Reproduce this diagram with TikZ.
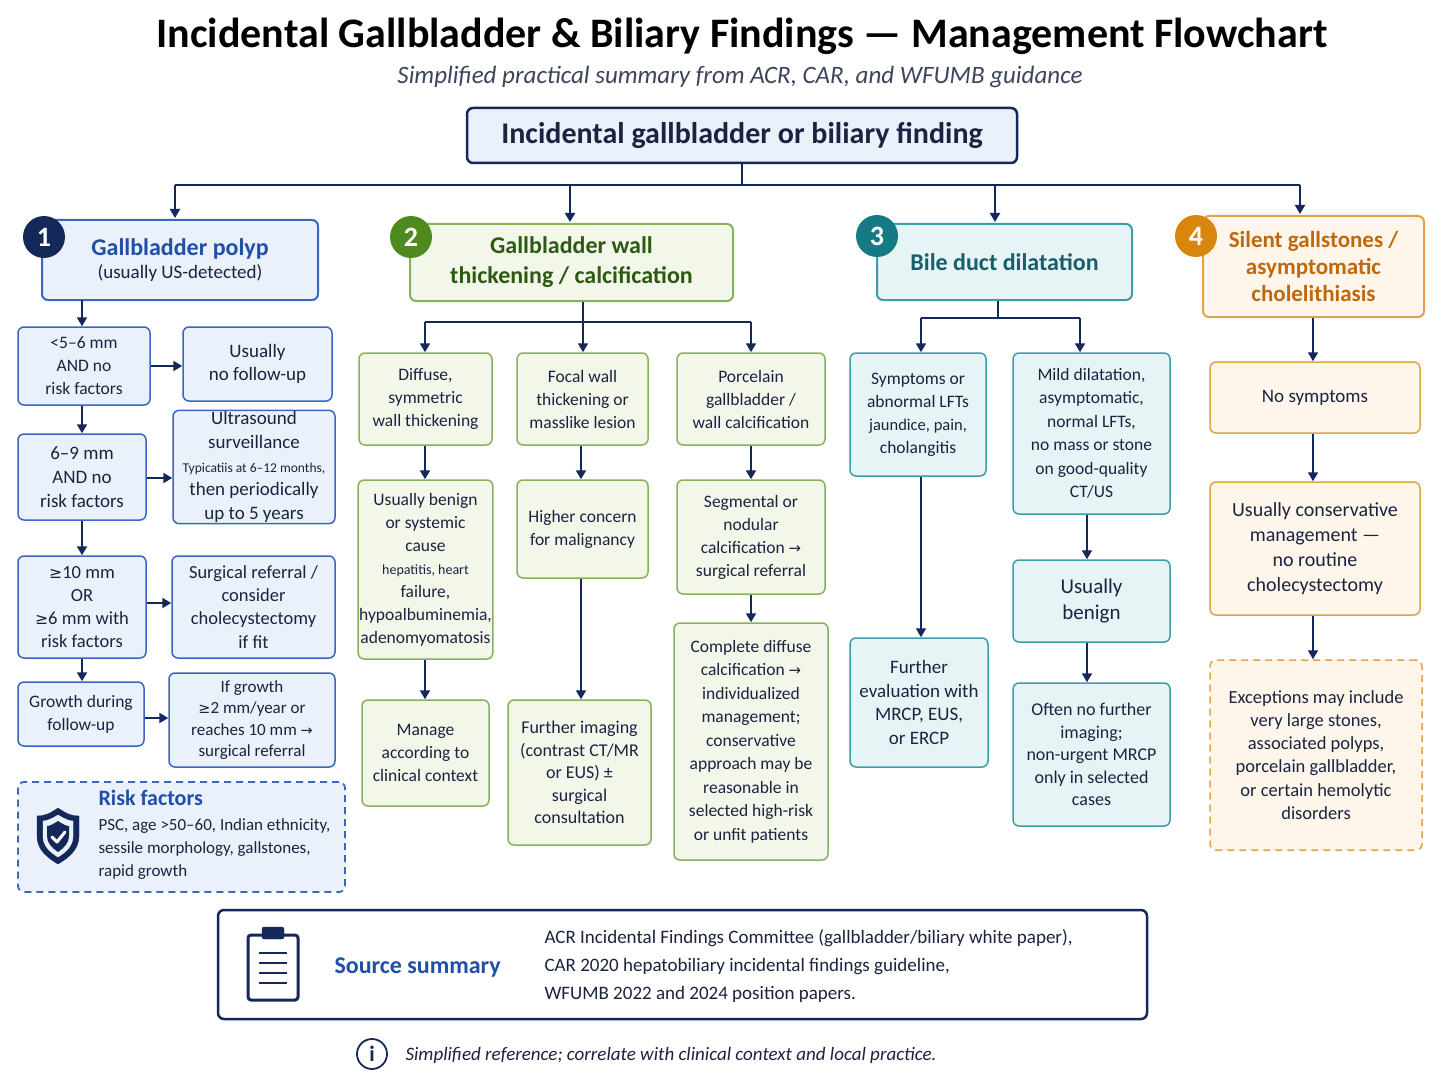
\documentclass[tikz,border=0pt]{standalone}
\usepackage{fontspec}
\setmainfont{Carlito}
\newfontfamily\dv{DejaVu Sans}
\usetikzlibrary{arrows.meta}
\definecolor{navy}{HTML}{14285A}
\definecolor{txt}{HTML}{1B2340}
\definecolor{bB}{HTML}{3A66BF}\definecolor{bF}{HTML}{EAF1FB}\definecolor{bT}{HTML}{1F4FA8}
\definecolor{gB}{HTML}{86B35A}\definecolor{gF}{HTML}{F2F7EA}\definecolor{gT}{HTML}{2D5A12}\definecolor{gC}{HTML}{4F8A1E}
\definecolor{tB}{HTML}{3C9EA8}\definecolor{tF}{HTML}{E7F4F5}\definecolor{tT}{HTML}{185E6A}\definecolor{tC}{HTML}{157A84}
\definecolor{oB}{HTML}{E5A04A}\definecolor{oF}{HTML}{FEF6EA}\definecolor{oT}{HTML}{C0680E}\definecolor{oC}{HTML}{D9860F}
\newcommand\GE{{\dv\fontsize{0.85em}{1em}\selectfont ≥}}
\newcommand\RA{{\dv\fontsize{0.85em}{1em}\selectfont →}}
\newcommand\bx[7]{\node[#6, minimum width={#4-#2}, minimum height={#5-#3}] (#1) at ({(#2+#4)/2},{(#3+#5)/2}) {#7};}
\newcommand\fs[1]{\fontsize{#1}{#1}\selectfont\baselineskip=1.25\baselineskip}
\begin{document}
\begin{tikzpicture}[x=1pt,y=-1pt,
 box/.style={draw, rounded corners=6pt, line width=1.5pt, align=center, inner sep=1pt, text=txt, font=\fontsize{17.5}{23}\selectfont},
 B/.style={box, draw=bB, fill=bF},
 G/.style={box, draw=gB, fill=gF},
 T/.style={box, draw=tB, fill=tF},
 O/.style={box, draw=oB, fill=oF},
 ln/.style={draw=navy, line width=2pt},
 arr/.style={ln, -{Triangle[length=9pt,width=10pt]}},
 num/.style={circle, fill=#1, text=white, minimum size=42pt, inner sep=0pt, font=\fontsize{28}{30}\selectfont\bfseries}]
\useasboundingbox (0,0) rectangle (1448,1086);
\fill[white] (0,0) rectangle (1448,1086);
\node[text=black, font=\fontsize{42}{46}\selectfont\bfseries] (title) at (742,36) {Incidental Gallbladder \& Biliary Findings — Management Flowchart};
\node[text=txt!85, font=\fontsize{25}{28}\selectfont\itshape] (sub) at (740,77) {Simplified practical summary from ACR, CAR, and WFUMB guidance};
\bx{top}{467}{108}{1017}{163}{B, draw=navy, line width=2.5pt, font=\fontsize{30}{34}\selectfont\bfseries}{Incidental gallbladder or biliary finding}
% headers
\bx{h1}{42}{220}{318}{300}{B, line width=2pt}{\color{bT}\fs{24}\bfseries Gallbladder polyp\\\color{txt}\fs{19}\mdseries (usually US-detected)}
\bx{h2}{410}{224}{733}{301}{G, line width=2pt, font=\fs{24}\bfseries, text=gT}{Gallbladder wall\\thickening / calcification}
\bx{h3}{877}{224}{1132}{300}{T, line width=2pt, font=\fs{24}\bfseries, text=tT}{Bile duct dilatation}
\bx{h4}{1203}{216}{1424}{317}{O, line width=2pt, font=\fontsize{23}{27}\selectfont\bfseries, text=oT}{Silent gallstones /\\asymptomatic\\cholelithiasis}
\node[num=navy] (n1) at (44,237) {1};
\node[num=gC] (n2) at (411,237) {2};
\node[num=tC] (n3) at (877,236) {3};
\node[num=oC] (n4) at (1196,236) {4};
\draw[ln] (top.south) -- (top.south |- 0,185);
\draw[ln] (175,185) -- (1300,185);
\draw[arr] (175,185) -- (175,218);
\draw[arr] (570,185) -- (570,222);
\draw[arr] (995,185) -- (995,222);
\draw[arr] (1300,185) -- (1300,214);
% column 1
\bx{b1}{18}{327}{150}{405}{B}{<5–6 mm\\AND no\\risk factors}
\bx{r1}{183}{327}{332}{401}{B, font=\fs{19}}{Usually\\no follow-up}
\bx{b2}{18}{434}{146}{520}{B, font=\fs{19}}{6–9 mm\\AND no\\risk factors}
\bx{r2}{173}{422}{335}{512}{B, font=\fs{19}}{Ultrasound\\surveillance\\\fontsize{13.5}{17}\selectfont Typicatiis at 6–12 months,\\then periodically\\up to 5 years}
\bx{b3}{18}{556}{146}{658}{B, font=\fs{18.5}}{\GE10 mm\\OR\\\GE6 mm with\\risk factors}
\bx{r3}{172}{556}{335}{658}{B, font=\fs{18.5}}{Surgical referral /\\consider\\cholecystectomy\\if fit}
\bx{b4}{18}{682}{144}{746}{B}{Growth during\\follow-up}
\bx{r4}{169}{673}{335}{767}{B, font=\fs{17}}{If growth\\\GE2 mm/year or\\reaches 10 mm \RA\\surgical referral}
\draw[arr] (82,300) -- (b1.north -| 82,0);
\draw[arr] (b1.south -| 82,0) -- (b2.north -| 82,0);
\draw[arr] (b2.south -| 82,0) -- (b3.north -| 82,0);
\draw[arr] (b3.south -| 82,0) -- (b4.north -| 82,0);
\draw[arr] (b1.east) -- (r1.west |- b1.east);
\draw[arr] (b2.east |- 0,478) -- (r2.west |- 0,478);
\draw[arr] (b3.east |- 0,603) -- (r3.west |- 0,603);
\draw[arr] (b4.east |- 0,718) -- (r4.west |- 0,718);
\bx{risk}{18}{782}{345}{892}{B, dashed, dash pattern=on 7pt off 5pt, line width=1.8pt}{}
\node[anchor=north west, text=bT, font=\fs{22}\bfseries] (rt) at (95,787) {Risk factors};
\node[anchor=north west, align=left, text=txt, font=\fontsize{17}{23}\selectfont] (rx) at (95,815) {PSC, age >50–60, Indian ethnicity,\\sessile morphology, gallstones,\\rapid growth};
% shield
\begin{scope}[shift={(58,836)}]
\draw[fill=navy, draw=navy] (0,-28) .. controls (10,-21) and (15,-20) .. (21,-20) -- (21,0) .. controls (21,14) and (10,22) .. (0,28) .. controls (-10,22) and (-21,14) .. (-21,0) -- (-21,-20) .. controls (-15,-20) and (-10,-21) .. (0,-28) -- cycle;
\draw[fill=bF, draw=bF] (0,-21) .. controls (8,-16) and (12,-15) .. (15,-15) -- (15,0) .. controls (15,10) and (8,16) .. (0,21) .. controls (-8,16) and (-15,10) .. (-15,0) -- (-15,-15) .. controls (-12,-15) and (-8,-16) .. (0,-21) -- cycle;
\fill[navy] (0,-15) .. controls (6,-11) and (9,-10) .. (11,-10) -- (11,0) .. controls (11,7) and (6,12) .. (0,16) .. controls (-6,12) and (-11,7) .. (-11,0) -- (-11,-10) .. controls (-9,-10) and (-6,-11) .. (0,-15) -- cycle;
\draw[white, line width=3pt, line cap=round, line join=round] (-6,1) -- (-1,6) -- (7,-4);
\end{scope}
% column 2
\bx{c1}{359}{353}{492}{445}{G}{Diffuse,\\symmetric\\wall thickening}
\bx{c2}{517}{353}{648}{445}{G}{Focal wall\\thickening or\\masslike lesion}
\bx{c3}{677}{353}{825}{445}{G}{Porcelain\\gallbladder /\\wall calcification}
\bx{c1b}{359}{480}{492}{659}{G}{Usually benign\\or systemic\\cause\\\fontsize{14}{19}\selectfont hepatitis, heart\\failure,\\hypoalbuminemia,\\adenomyomatosis}
\bx{c1c}{362}{700}{489}{806}{G}{Manage\\according to\\clinical context}
\bx{c2b}{517}{480}{648}{578}{G}{Higher concern\\for malignancy}
\bx{c2c}{508}{700}{651}{845}{G, font=\fs{18}}{Further imaging\\(contrast CT/MR\\or EUS) ±\\surgical\\consultation}
\bx{c3b}{677}{480}{825}{594}{G}{Segmental or\\nodular\\calcification \RA\\surgical referral}
\bx{c3c}{674}{623}{828}{860}{G, font=\fontsize{17.5}{23.5}\selectfont}{Complete diffuse\\calcification \RA\\individualized\\management;\\conservative\\approach may be\\reasonable in\\selected high-risk\\or unfit patients}
\draw[ln] (h2.south -| 583,0) -- (583,322);
\draw[ln] (425,322) -- (751,322);
\draw[arr] (425,322) -- (c1.north -| 425,0);
\draw[arr] (583,322) -- (c2.north -| 583,0);
\draw[arr] (751,322) -- (c3.north -| 751,0);
\draw[arr] (c1.south -| 425,0) -- (c1b.north -| 425,0);
\draw[arr] (c1b.south -| 425,0) -- (c1c.north -| 425,0);
\draw[arr] (c2.south -| 581,0) -- (c2b.north -| 581,0);
\draw[arr] (c2b.south -| 581,0) -- (c2c.north -| 581,0);
\draw[arr] (c3.south -| 751,0) -- (c3b.north -| 751,0);
\draw[arr] (c3b.south -| 751,0) -- (c3c.north -| 751,0);
% column 3
\bx{d1}{850}{353}{986}{476}{T}{Symptoms or\\abnormal LFTs\\\fontsize{16.5}{23}\selectfont jaundice, pain,\\cholangitis}
\bx{d2}{1013}{353}{1170}{514}{T, font=\fontsize{17.5}{23.5}\selectfont}{Mild dilatation,\\asymptomatic,\\normal LFTs,\\no mass or stone\\on good-quality\\CT/US}
\bx{d1c}{850}{638}{988}{767}{T, font=\fs{19}}{Further\\evaluation with\\MRCP, EUS,\\or ERCP}
\bx{d2b}{1013}{560}{1170}{642}{T, font=\fs{21}}{Usually\\benign}
\bx{d2c}{1013}{683}{1170}{826}{T, font=\fs{18}}{Often no further\\imaging;\\non-urgent MRCP\\only in selected\\cases}
\draw[ln] (h3.south -| 998,0) -- (998,318);
\draw[ln] (921,318) -- (1080,318);
\draw[arr] (921,318) -- (d1.north -| 921,0);
\draw[arr] (1080,318) -- (d2.north -| 1080,0);
\draw[arr] (d1.south -| 921,0) -- (d1c.north -| 921,0);
\draw[arr] (d2.south -| 1087,0) -- (d2b.north -| 1087,0);
\draw[arr] (d2b.south -| 1087,0) -- (d2c.north -| 1087,0);
% column 4
\bx{e1}{1210}{362}{1420}{433}{O, font=\fs{19}}{No symptoms}
\bx{e2}{1210}{482}{1420}{615}{O, font=\fs{20}}{Usually conservative\\management —\\no routine\\cholecystectomy}
\bx{e3}{1210}{660}{1422}{850}{O, dashed, dash pattern=on 7pt off 5pt, font=\fs{18.5}}{Exceptions may include\\very large stones,\\associated polyps,\\porcelain gallbladder,\\or certain hemolytic\\disorders}
\draw[arr] (h4.south -| 1313,0) -- (e1.north -| 1313,0);
\draw[arr] (e1.south -| 1313,0) -- (e2.north -| 1313,0);
\draw[arr] (e2.south -| 1313,0) -- (e3.north -| 1313,0);
% source
\bx{src}{218}{910}{1147}{1019}{box, draw=navy, line width=2.5pt, fill=white}{}
\node[text=bT, font=\fs{24}\bfseries, anchor=west] (st) at (331,968) {Source summary};
\node[anchor=west, align=left, text=txt, font=\fontsize{19}{28}\selectfont] (sx) at (541,966) {ACR Incidental Findings Committee (gallbladder/biliary white paper),\\CAR 2020 hepatobiliary incidental findings guideline,\\WFUMB 2022 and 2024 position papers.};
\begin{scope}[shift={(273,965)}]
\draw[navy, line width=3pt, rounded corners=3pt] (-25,-30) rectangle (25,35);
\draw[navy, fill=navy, rounded corners=2pt] (-11,-38) rectangle (11,-26);
\foreach \yy in {-12,-2,8,18} \draw[navy, line width=2.5pt] (-14,\yy) -- (14,\yy);
\end{scope}
\node[circle, draw=navy, line width=1.8pt, minimum size=30pt, inner sep=0pt, text=navy, font=\fs{22}\bfseries] (info) at (372,1054) {i};
\node[anchor=west, text=txt, font=\fontsize{19}{22}\selectfont\itshape] (foot) at (402,1055) {Simplified reference; correlate with clinical context and local practice.};
\end{tikzpicture}
\end{document}
